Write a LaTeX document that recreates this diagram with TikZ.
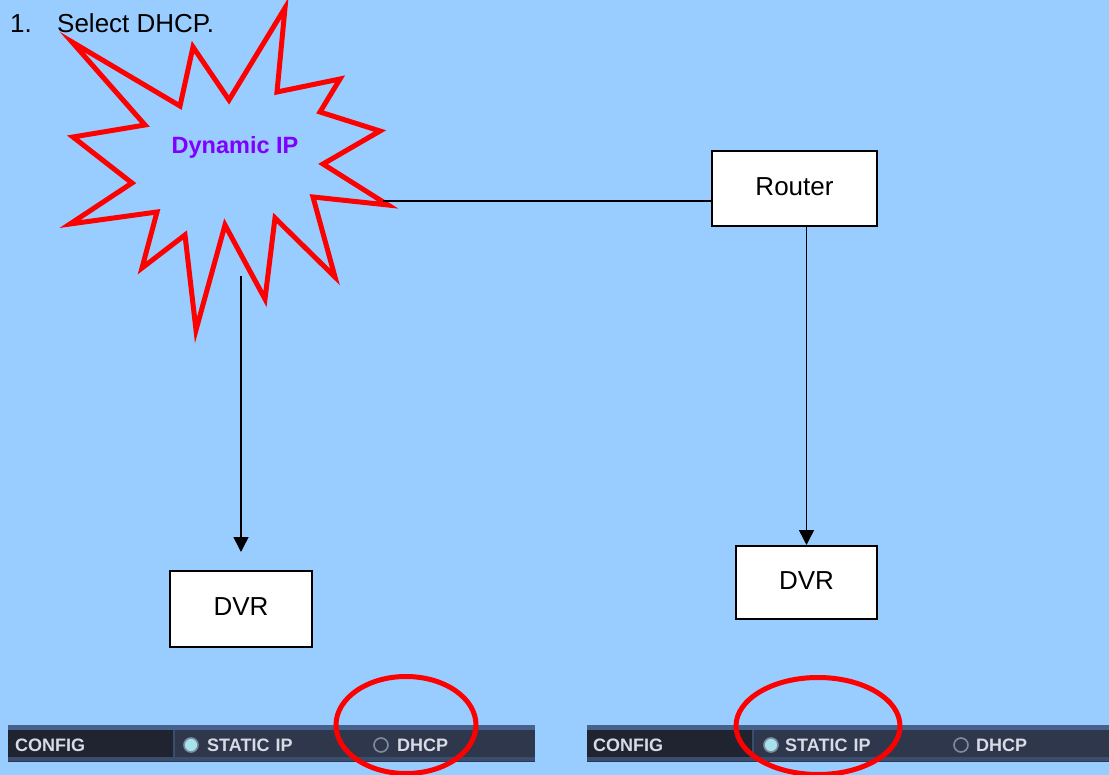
\documentclass[tikz,border=0pt]{standalone}
\usepackage{fontspec}
\setmainfont{Liberation Sans}
\usetikzlibrary{arrows.meta,calc}
\definecolor{bg}{HTML}{99CCFF}
\definecolor{dynpurple}{HTML}{7F00FF}
\definecolor{barmain}{HTML}{2E374B}
\definecolor{bardark}{HTML}{1F2430}
\definecolor{bartop}{HTML}{46618C}
\definecolor{barbot}{HTML}{3A4D6E}
\definecolor{bartext}{HTML}{D8DBE6}
\definecolor{radioring}{HTML}{7E8C9E}
\definecolor{radiofill}{HTML}{A6E2EE}
\tikzset{
  box/.style={draw=black, fill=white, line width=2pt, inner sep=0pt, text depth=4pt,
              font=\fontsize{26}{30}\selectfont},
  plaintext/.style={inner sep=0pt, font=\fontsize{26}{30}\selectfont, anchor=base west},
  conn/.style={draw=black, line width=1.5pt},
  arr/.style={conn, -{Triangle[length=15pt,width=15pt]}},
  burst/.style={draw=red, line width=5pt, line join=miter, miter limit=10},
  marker/.style={draw=red, line width=5pt},
  bartxt/.style={inner sep=0pt, anchor=base west, text=bartext, font=\bfseries\fontsize{18}{20}\selectfont},
  radioon/.style={draw=radioring, line width=1.6pt, fill=radiofill},
  radiooff/.style={draw=radioring, line width=1.6pt, fill=barmain},
}
\begin{document}
\begin{tikzpicture}[x=1pt,y=-1pt]
\useasboundingbox (0,0) rectangle (1109,775);
\fill[bg] (0,0) rectangle (1109,775);

% heading
\node[plaintext] (num) at (10,33) {1.};
\node[plaintext] (sel) at (57,33) {Select DHCP.};

% burst
\draw[burst] (285,8) -- (277,92) -- (340,79) -- (320,112) -- (380,131) -- (323,164)
  -- (388,205) -- (313,197) -- (335,277) -- (275,218) -- (265,299) -- (225,225)
  -- (196,330) -- (185,235) -- (142,268) -- (157,212) -- (70,224) -- (132,183)
  -- (73,137) -- (145,125) -- (72,42) -- (180,106) -- (193,47) -- (229,100) -- cycle;
\node[inner sep=0pt, text=dynpurple, font=\bfseries\fontsize{23.5}{26}\selectfont] (dyn) at (235,147) {Dynamic IP};

% boxes
\node[box, minimum width=165pt, minimum height=75pt] (router) at (794.5,188.5) {Router};
\node[box, minimum width=142pt, minimum height=76pt] (dvrL) at (241,609) {DVR};
\node[box, minimum width=141pt, minimum height=73pt] (dvrR) at (806.5,582.5) {DVR};

% connectors
\coordinate (starR) at (383,201);
\coordinate (starB) at (241,276);
\coordinate (arrL) at (241,552);
\draw[conn] (starR) -- (starR -| router.west);
\draw[arr] (starB) -- (arrL);
\draw[arr] (router.south -| dvrR.north) -- (dvrR.north);

% left config bar
\fill[barmain] (8,725) rectangle (535,762);
\fill[bartop] (8,725) rectangle (535,730);
\fill[barbot] (8,757) rectangle (535,761);
\fill[bardark] (8,730) rectangle (173,757);
\fill[barbot] (173,730) rectangle (174.5,757);
\node[bartxt] (cfgL) at (15,751) {CONFIG};
\node[circle, radioon, minimum size=14pt, inner sep=0pt] (rsL) at (191,745) {};
\node[bartxt] (stL) at (207,751) {STATIC\hspace{6pt}IP};
\node[circle, radiooff, minimum size=14pt, inner sep=0pt] (rdL) at (381,745) {};
\node[bartxt] (dhL) at (397,751) {DHCP};

% right config bar
\fill[barmain] (587,725) rectangle (1109,762);
\fill[bartop] (587,725) rectangle (1109,730);
\fill[barbot] (587,757) rectangle (1109,761);
\fill[bardark] (587,730) rectangle (752,757);
\fill[barbot] (752,730) rectangle (753.5,757);
\node[bartxt] (cfgR) at (593,751) {CONFIG};
\node[circle, radioon, minimum size=14pt, inner sep=0pt] (rsR) at (771,745) {};
\node[bartxt] (stR) at (785,751) {STATIC\hspace{6pt}IP};
\node[circle, radiooff, minimum size=14pt, inner sep=0pt] (rdR) at (961,745) {};
\node[bartxt] (dhR) at (976,751) {DHCP};

% red markers
\draw[marker] (406,725) ellipse [x radius=70pt, y radius=48.5pt];
\draw[marker] (818,726) ellipse [x radius=82pt, y radius=48.5pt];
\end{tikzpicture}
\end{document}
